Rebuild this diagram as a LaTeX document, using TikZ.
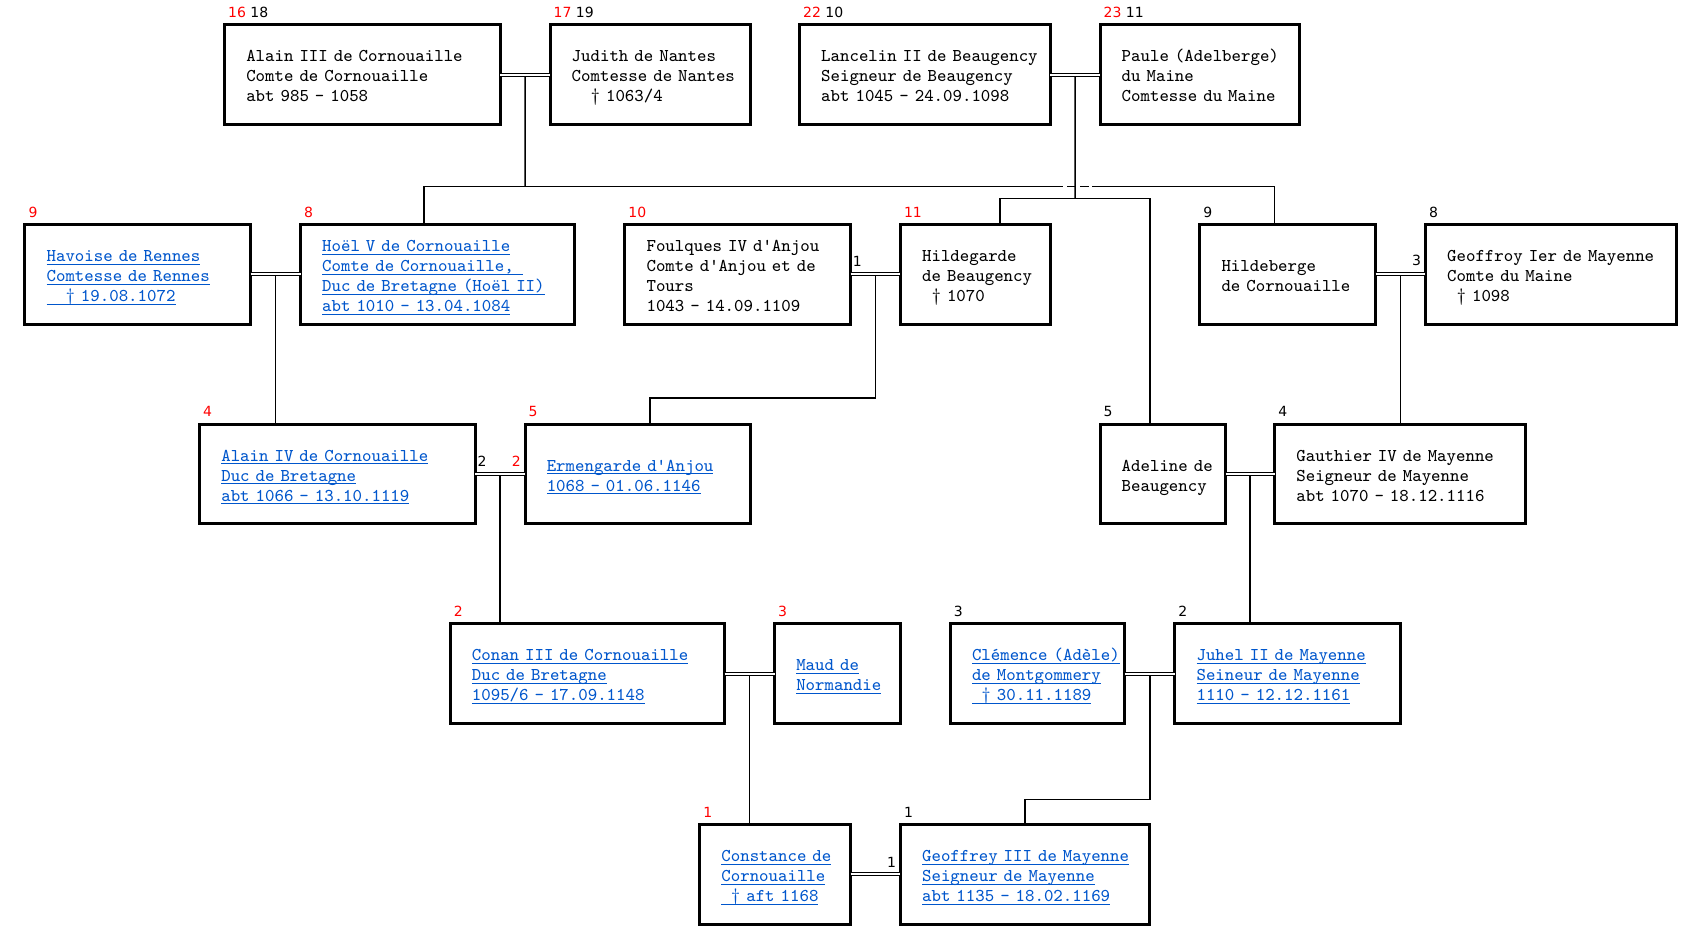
\documentclass[tikz,border=0pt]{standalone}
\usepackage{fontspec}
\newfontfamily\numfont{DejaVu Sans}
\usetikzlibrary{positioning,calc}
\definecolor{linkblue}{RGB}{0,86,204}
\newlength\pxu
\setlength\pxu{0.5424pt}
\newcommand\boxlines[1]{\raisebox{-1.5pt}[\height][\depth]{\begin{tabular}{@{}l@{}}#1\end{tabular}}}
\newcommand\lnk[1]{\setbox0\hbox{#1}\rlap{\rule[-1.6pt]{\wd0}{0.5pt}}\box0}

\tikzset{
  person/.style={draw, line width=1.5pt, outer sep=0pt, anchor=north west,
    minimum height=92*\pxu, inner xsep=20*\pxu, align=left,
    font=\ttfamily\fontsize{9}{10}\selectfont,
    /utils/exec={\pgfmathsetlengthmacro\boxtw{(#1-40)*\pxu}}, text width=\boxtw},
  linked/.style={person=#1, text=linkblue},
  num/.style={inner sep=0pt, font=\numfont\fontsize{7}{8}\selectfont},
  conn/.style={line width=0.8pt},
  couple/.style={double, line width=0.5pt, double distance=1pt}
}

\begin{document}
\begin{tikzpicture}[x=0.5424pt,y=-0.5424pt]
\useasboundingbox (0,0) rectangle (1568,876);

% generation 1
\node[person=254] (al3) at (207,23) {\boxlines{Alain III de Cornouaille\\Comte de Cornouaille\\abt 985 - 1058}};
\node[person=185] (jud) at (507,23) {\boxlines{Judith de Nantes\\Comtesse de Nantes\\\phantom{00}† 1063/4}};
\node[person=231] (lan) at (737,23) {\boxlines{Lancelin II de Beaugency\\Seigneur de Beaugency\\abt 1045 - 24.09.1098}};
\node[person=184] (pau) at (1014,23) {\boxlines{Paule (Adelberge)\\du Maine\\Comtesse du Maine}};

% generation 2
\node[linked=208] (hav) at (23,207) {\boxlines{\lnk{Havoise de Rennes}\\\lnk{Comtesse de Rennes}\\\lnk{\phantom{00}† 19.08.1072}}};
\node[linked=253] (hoel) at (277,207) {\boxlines{\lnk{Hoël V de Cornouaille}\\\lnk{Comte de Cornouaille,\phantom{0}}\\\lnk{Duc de Bretagne (Hoël II)}\\\lnk{abt 1010 - 13.04.1084}}};
\node[person=208] (fou) at (576,207) {\boxlines{Foulques IV d'Anjou\\Comte d'Anjou et de\\Tours\\1043 - 14.09.1109}};
\node[person=138] (hildeg) at (830,207) {\boxlines{Hildegarde\\de Beaugency\\\phantom{0}† 1070}};
\node[person=162] (hildeb) at (1106,207) {\boxlines{Hildeberge\\de Cornouaille}};
\node[person=231] (geo1) at (1314,207) {\boxlines{Geoffroy Ier de Mayenne\\Comte du Maine\\\phantom{0}† 1098}};

% generation 3
\node[linked=254] (al4) at (184,391) {\boxlines{\lnk{Alain IV de Cornouaille}\\\lnk{Duc de Bretagne}\\\lnk{abt 1066 - 13.10.1119}}};
\node[linked=208] (erm) at (484,391) {\boxlines{\lnk{Ermengarde d'Anjou}\\\lnk{1068 - 01.06.1146}}};
\node[person=116] (adel) at (1014,391) {\boxlines{Adeline de\\Beaugency}};
\node[person=231] (gau) at (1175,391) {\boxlines{Gauthier IV de Mayenne\\Seigneur de Mayenne\\abt 1070 - 18.12.1116}};

% generation 4
\node[linked=253] (con) at (415,575) {\boxlines{\lnk{Conan III de Cornouaille}\\\lnk{Duc de Bretagne}\\\lnk{1095/6 - 17.09.1148}}};
\node[linked=116] (maud) at (714,575) {\boxlines{\lnk{Maud de}\\\lnk{Normandie}}};
\node[linked=161] (cle) at (876,575) {\boxlines{\lnk{Clémence (Adèle)}\\\lnk{de Montgommery}\\\lnk{\phantom{0}† 30.11.1189}}};
\node[linked=208] (juh) at (1083,575) {\boxlines{\lnk{Juhel II de Mayenne}\\\lnk{Seineur de Mayenne}\\\lnk{1110 - 12.12.1161}}};

% generation 5
\node[linked=139] (cst) at (645,760) {\boxlines{\lnk{Constance de}\\\lnk{Cornouaille}\\\lnk{\phantom{0}† aft 1168}}};
\node[linked=230] (geo3) at (830,760) {\boxlines{\lnk{Geoffrey III de Mayenne}\\\lnk{Seigneur de Mayenne}\\\lnk{abt 1135 - 18.02.1169}}};

% numbers
\node[num, above right=3.4pt and 1.6pt of al3.north west] (n-al3) {\textcolor{red}{16} 18};
\node[num, above right=3.4pt and 1.6pt of jud.north west] (n-jud) {\textcolor{red}{17} 19};
\node[num, above right=3.4pt and 1.6pt of lan.north west] (n-lan) {\textcolor{red}{22} 10};
\node[num, above right=3.4pt and 1.6pt of pau.north west] (n-pau) {\textcolor{red}{23} 11};
\node[num, red, above right=3.4pt and 1.6pt of hav.north west] (n-hav) {9};
\node[num, red, above right=3.4pt and 1.6pt of hoel.north west] (n-hoel) {8};
\node[num, red, above right=3.4pt and 1.6pt of fou.north west] (n-fou) {10};
\node[num, red, above right=3.4pt and 1.6pt of hildeg.north west] (n-hildeg) {11};
\node[num, above right=3.4pt and 1.6pt of hildeb.north west] (n-hildeb) {9};
\node[num, above right=3.4pt and 1.6pt of geo1.north west] (n-geo1) {8};
\node[num, red, above right=3.4pt and 1.6pt of al4.north west] (n-al4) {4};
\node[num, red, above right=3.4pt and 1.6pt of erm.north west] (n-erm) {5};
\node[num, above right=3.4pt and 1.6pt of adel.north west] (n-adel) {5};
\node[num, above right=3.4pt and 1.6pt of gau.north west] (n-gau) {4};
\node[num, red, above right=3.4pt and 1.6pt of con.north west] (n-con) {2};
\node[num, red, above right=3.4pt and 1.6pt of maud.north west] (n-maud) {3};
\node[num, above right=3.4pt and 1.6pt of cle.north west] (n-cle) {3};
\node[num, above right=3.4pt and 1.6pt of juh.north west] (n-juh) {2};
\node[num, red, above right=3.4pt and 1.6pt of cst.north west] (n-cst) {1};
\node[num, above right=3.4pt and 1.6pt of geo3.north west] (n-geo3) {1};
% marriage numbers
\node[num, above right=4pt and 1pt of fou.east] (w-fou) {1};
\node[num, above left=4pt and 2pt of geo1.west] (w-geo1) {3};
\node[num, above right=3.4pt and 1pt of al4.east] (w-al4) {2};
\node[num, red, above left=3.4pt and 2pt of erm.west] (w-erm) {2};
\node[num, above left=3.4pt and 2pt of geo3.west] (w-geo3) {1};

% couple midpoints
\coordinate (m1) at ($(al3.east)!0.5!(jud.west)$);
\coordinate (m2) at ($(lan.east)!0.5!(pau.west)$);
\coordinate (m3) at ($(hav.east)!0.5!(hoel.west)$);
\coordinate (m4) at ($(fou.east)!0.5!(hildeg.west)$);
\coordinate (m5) at ($(hildeb.east)!0.5!(geo1.west)$);
\coordinate (m6) at ($(al4.east)!0.5!(erm.west)$);
\coordinate (m7) at ($(adel.east)!0.5!(gau.west)$);
\coordinate (m8) at ($(con.east)!0.5!(maud.west)$);
\coordinate (m9) at ($(cle.east)!0.5!(juh.west)$);

% drop points
\coordinate (hoelT) at ($(hoel.north west)+(114,0)$);
\coordinate (hildebT) at ($(hildeb.north west)+(69,0)$);
\coordinate (hildegT) at ($(hildeg.north west)+(92,0)$);
\coordinate (adelT) at ($(adel.north west)+(46,0)$);
\coordinate (ermT) at ($(erm.north west)+(115,0)$);
\coordinate (geo3T) at ($(geo3.north west)+(115,0)$);
\coordinate (bar1) at (484,172);
\coordinate (gapL) at (972,172);
\coordinate (gapR) at (1007,172);
\coordinate (bar2) at (991,183);

% descent lines
\draw[conn] (m1) -- (bar1);
\draw[conn] (hoelT) |- (bar1) -- (gapL);
\draw[conn, dash pattern=on 4.5pt off 2pt] (gapL) -- (gapR);
\draw[conn] (gapR) -| (hildebT);
\draw[conn] (m2) -- (bar2);
\draw[conn] (hildegT) |- (bar2) -| (adelT);
\draw[conn] (m3) -- (m3 |- al4.north);
\draw[conn] (m4) |- ([yshift=13pt]ermT) -- (ermT);
\draw[conn] (m5) -- (m5 |- gau.north);
\draw[conn] (m6) -- (m6 |- con.north);
\draw[conn] (m7) -- (m7 |- juh.north);
\draw[conn] (m8) -- (m8 |- cst.north);
\draw[conn] (m9) |- ([yshift=12.5pt]geo3T) -- (geo3T);

% couples
\draw[couple] (al3.east) -- (jud.west);
\draw[couple] (lan.east) -- (pau.west);
\draw[couple] (hav.east) -- (hoel.west);
\draw[couple] (fou.east) -- (hildeg.west);
\draw[couple] (hildeb.east) -- (geo1.west);
\draw[couple] (al4.east) -- (erm.west);
\draw[couple] (adel.east) -- (gau.west);
\draw[couple] (con.east) -- (maud.west);
\draw[couple] (cle.east) -- (juh.west);
\draw[couple] (cst.east) -- (geo3.west);
\end{tikzpicture}
\end{document}
